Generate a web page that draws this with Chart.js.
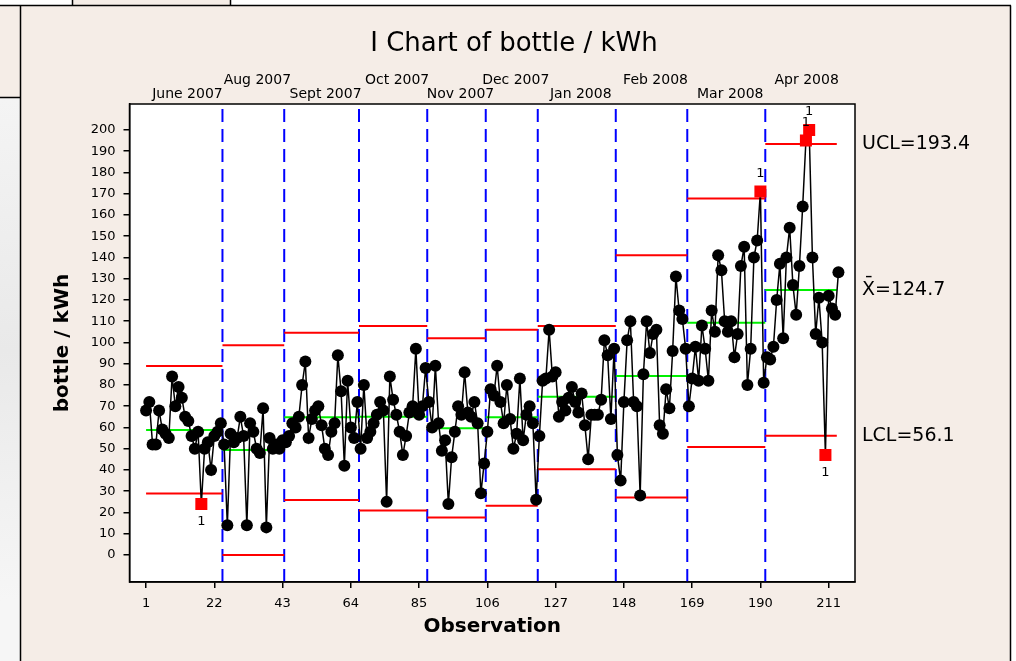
<!DOCTYPE html>
<html lang="en">
<head>
<meta charset="UTF-8">
<title>I Chart of bottle / kWh</title>
<script src="https://cdn.jsdelivr.net/npm/chart.js"></script>
<style>
  html, body { margin: 0; padding: 0; background: #fff; }
  #wrap { width: 1016px; height: 661px; }
</style>
</head>
<body>
<div id="wrap"><canvas id="ichart" width="1016" height="661"></canvas></div>
<script>
// stage labels (one stage per month)
const months = ['June 2007', 'Aug 2007', 'Sept 2007', 'Oct 2007', 'Nov 2007',
                'Dec 2007', 'Jan 2008', 'Feb 2008', 'Mar 2008', 'Apr 2008'];

// bottle / kWh, month by month
const jun07 = [68, 72, 52, 52, 68, 59, 57, 55, 84, 70, 79, 74, 65, 63, 56, 50, 58, 24, 50, 53, 40, 56, 58, 62];
const aug07 = [52, 14, 57, 53, 55, 65, 56, 14, 62, 58, 50, 48, 69, 13, 55, 50, 52, 50, 54];
const sep07 = [53, 56, 62, 60, 65, 80, 91, 55, 64, 68, 70, 61, 50, 47, 58, 62, 94, 77, 42, 82, 60, 55, 72];
const oct07 = [50, 80, 55, 58, 62, 66, 72, 68, 25, 84, 73, 66, 58, 47, 56, 67, 70, 97, 66, 70, 88];
const nov07 = [72, 60, 89, 62, 49, 54, 24, 46, 58, 70, 66, 86, 67, 65, 72, 62, 29, 43];
const dec07 = [58, 78, 75, 89, 72, 62, 80, 64, 50, 57, 83, 54, 66, 70, 62, 26];
const jan08 = [56, 82, 83, 106, 84, 86, 65, 72, 68, 74, 79, 72, 67, 76, 61, 45, 66, 66, 66, 73, 101, 94, 64, 97];
const feb08 = [47, 35, 72, 101, 110, 72, 70, 28, 85, 110, 95, 104, 106, 61, 57, 78, 69, 96, 131, 115, 111, 97];
const mar08 = [70, 83, 98, 82, 108, 97, 82, 115, 105, 141, 134, 110, 105, 110, 93, 104, 136, 145, 80, 97, 140, 148, 171, 81];
const apr08 = [93, 92, 98, 120, 137, 102, 140, 154, 127, 113, 136, 164, 195, 200, 140, 104, 121, 100, 47, 122, 116, 113, 133];

// control limits per stage
const centre = [58.8, 49.4, 64.8, 65.1, 59.6, 64.8, 74.5, 84.2, 109.3, 124.7];
const ucl    = [88.9, 98.7, 104.6, 107.8, 102.0, 106.0, 107.8, 141.0, 167.7, 193.4];
const lcl    = [28.9, 0.0, 25.9, 20.9, 17.7, 23.2, 40.3, 27.1, 50.8, 56.1];

// observations failing test 1 (beyond limits)
const flagged = [18, 190, 204, 205, 210];

const xTicks = [1, 22, 43, 64, 85, 106, 127, 148, 169, 190, 211];
const yTicks = [0, 10, 20, 30, 40, 50, 60, 70, 80, 90, 100, 110, 120, 130, 140, 150, 160, 170, 180, 190, 200];

const Y_MIN = -12.7, Y_MAX = 212.2;
const X_MIN = -4.1, X_MAX = 219.1;

// build datasets
const stageData = [jun07, aug07, sep07, oct07, nov07, dec07, jan08, feb08, mar08, apr08];
const values = stageData.flat();
const nObs = values.length;
const starts = [];
let n = 1;
stageData.forEach(s => { starts.push(n); n += s.length; });

const points = values.map((v, i) => ({ x: i + 1, y: v }));
const isFlag = i => flagged.includes(i + 1);

function stageLine(levels) {
    const out = [];
    levels.forEach((lv, k) => {
        const a = k === 0 ? 1 : starts[k] - 0.5;
        const b = k === levels.length - 1 ? nObs - 0.5 : starts[k + 1] - 0.5;
        out.push({ x: a, y: lv }, { x: b, y: lv }, { x: b, y: null });
    });
    return out;
}

const boundaries = [];
starts.slice(1).forEach(s => {
    boundaries.push({ x: s - 0.5, y: Y_MIN }, { x: s - 0.5, y: Y_MAX }, { x: s - 0.5, y: null });
});

const BEIGE = '#f5ede7';

const framePlugin = {
    id: 'frame',
    beforeDraw(chart) {
        const ctx = chart.ctx;
        const a = chart.chartArea;
        ctx.save();
        ctx.fillStyle = '#ffffff';
        ctx.fillRect(0, 0, chart.width, chart.height);
        // surrounding page bits
        const g = ctx.createLinearGradient(0, 100, 20, 600);
        g.addColorStop(0, '#f4f4f4');
        g.addColorStop(0.5, '#e9e9e9');
        g.addColorStop(1, '#f6f6f6');
        ctx.fillStyle = g;
        ctx.fillRect(0, 98, 20, chart.height - 98);
        ctx.fillStyle = BEIGE;
        ctx.fillRect(0, 6, 20, 91);
        ctx.fillRect(73, 0, 157, 5);
        ctx.fillRect(21, 6, 989, chart.height - 6);
        ctx.strokeStyle = '#000';
        ctx.lineWidth = 1.5;
        ctx.beginPath();
        ctx.moveTo(0, 5.5); ctx.lineTo(1011, 5.5);
        ctx.moveTo(72.5, 0); ctx.lineTo(72.5, 5.5);
        ctx.moveTo(230.5, 0); ctx.lineTo(230.5, 5.5);
        ctx.moveTo(20.5, 5.5); ctx.lineTo(20.5, chart.height);
        ctx.moveTo(1010.5, 5.5); ctx.lineTo(1010.5, chart.height);
        ctx.moveTo(0, 97.5); ctx.lineTo(20.5, 97.5);
        ctx.stroke();
        // plot area
        ctx.fillStyle = '#ffffff';
        ctx.fillRect(a.left, a.top, a.right - a.left, a.bottom - a.top);
        ctx.restore();
    },
    afterDraw(chart) {
        const ctx = chart.ctx;
        const a = chart.chartArea;
        const xs = chart.scales.x, ys = chart.scales.y;
        ctx.save();
        ctx.strokeStyle = '#000';
        ctx.lineWidth = 1.5;
        ctx.strokeRect(a.left, a.top, a.right - a.left, a.bottom - a.top);

        ctx.fillStyle = '#000';
        ctx.textAlign = 'center';
        ctx.textBaseline = 'alphabetic';
        ctx.font = '26px "DejaVu Sans"';
        ctx.fillText('I Chart of bottle / kWh', 514, 51);

        // stage labels above the plot
        ctx.font = '14px "DejaVu Sans"';
        ctx.textBaseline = 'middle';
        months.forEach((m, k) => {
            const first = starts[k];
            const last = first + stageData[k].length - 1;
            const cx = xs.getPixelForValue((first + last) / 2) + 4;
            ctx.fillText(m, cx, k % 2 === 0 ? 94 : 80);
        });

        // axis titles
        ctx.font = 'bold 20px "DejaVu Sans"';
        ctx.fillText('Observation', (a.left + a.right) / 2, 627);
        ctx.save();
        ctx.translate(63, (a.top + a.bottom) / 2);
        ctx.rotate(-Math.PI / 2);
        ctx.fillText('bottle / kWh', 0, 0);
        ctx.restore();

        // last-stage limit labels
        ctx.font = '19px "DejaVu Sans"';
        ctx.textAlign = 'left';
        const k = centre.length - 1;
        ctx.fillText('UCL=' + ucl[k].toFixed(1), 862, ys.getPixelForValue(ucl[k]));
        ctx.fillText('X\u0304=' + centre[k].toFixed(1), 862, ys.getPixelForValue(centre[k]));
        ctx.fillText('LCL=' + lcl[k].toFixed(1), 862, ys.getPixelForValue(lcl[k]));

        // test-1 flags
        ctx.font = '13px "DejaVu Sans"';
        ctx.textAlign = 'center';
        flagged.forEach(obs => {
            const v = values[obs - 1];
            const st = starts.filter(s => s <= obs).length - 1;
            const above = v > centre[st];
            const px = xs.getPixelForValue(obs);
            const py = ys.getPixelForValue(v) + (above ? -18 : 18);
            ctx.fillText('1', px, py);
        });
        ctx.restore();
    }
};

const lineStyle = (color, width) => ({
    borderColor: color, borderWidth: width, pointRadius: 0, fill: false, spanGaps: false
});

new Chart(document.getElementById('ichart'), {
    type: 'line',
    data: {
        datasets: [
            {
                data: points,
                borderColor: '#000',
                borderWidth: 1.5,
                pointStyle: points.map((p, i) => isFlag(i) ? 'rect' : 'circle'),
                pointRadius: points.map((p, i) => isFlag(i) ? 8.5 : 6),
                pointBackgroundColor: points.map((p, i) => isFlag(i) ? '#ff0000' : '#000'),
                pointBorderWidth: 0,
                order: 0
            },
            { data: stageLine(centre), ...lineStyle('#00f000', 2), order: 3 },
            { data: stageLine(ucl), ...lineStyle('#ff0000', 2), order: 2 },
            { data: stageLine(lcl), ...lineStyle('#ff0000', 2), order: 2 },
            { data: boundaries, ...lineStyle('#0000ff', 2), borderDash: [13, 7], order: 4 }
        ]
    },
    options: {
        responsive: false,
        animation: false,
        devicePixelRatio: 1,
        layout: { padding: { left: 60, top: 104, right: 161, bottom: 39 } },
        plugins: { legend: { display: false }, tooltip: { enabled: false } },
        elements: { line: { tension: 0 } },
        scales: {
            x: {
                type: 'linear',
                min: X_MIN, max: X_MAX,
                afterBuildTicks: s => { s.ticks = xTicks.map(v => ({ value: v })); },
                afterFit: s => { s.height = 40; },
                ticks: { color: '#000', font: { family: 'DejaVu Sans', size: 13 }, padding: 8, maxRotation: 0, autoSkip: false },
                grid: { drawOnChartArea: false, drawTicks: true, tickLength: 6, color: '#000', lineWidth: 1.5 },
                border: { display: true, color: '#000', width: 1.5 }
            },
            y: {
                min: Y_MIN, max: Y_MAX,
                afterBuildTicks: s => { s.ticks = yTicks.map(v => ({ value: v })); },
                afterFit: s => { s.width = 69.5; },
                ticks: { color: '#000', font: { family: 'DejaVu Sans', size: 13 }, padding: 8, autoSkip: false },
                grid: { drawOnChartArea: false, drawTicks: true, tickLength: 6, color: '#000', lineWidth: 1.5 },
                border: { display: true, color: '#000', width: 1.5 }
            }
        }
    },
    plugins: [framePlugin]
});
</script>
</body>
</html>
